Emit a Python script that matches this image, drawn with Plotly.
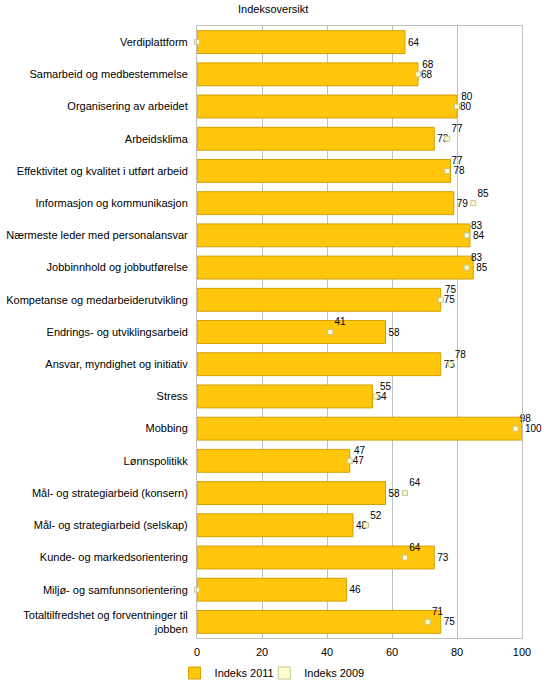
import plotly.graph_objects as go

categories = [
    "Verdiplattform",
    "Samarbeid og medbestemmelse",
    "Organisering av arbeidet",
    "Arbeidsklima",
    "Effektivitet og kvalitet i utført arbeid",
    "Informasjon og kommunikasjon",
    "Nærmeste leder med personalansvar",
    "Jobbinnhold og jobbutførelse",
    "Kompetanse og medarbeiderutvikling",
    "Endrings- og utviklingsarbeid",
    "Ansvar, myndighet og initiativ",
    "Stress",
    "Mobbing",
    "Lønnspolitikk",
    "Mål- og strategiarbeid (konsern)",
    "Mål- og strategiarbeid (selskap)",
    "Kunde- og markedsorientering",
    "Miljø- og samfunnsorientering",
    "Totaltilfredshet og forventninger til<br>jobben",
]
indeks_2011 = [64, 68, 80, 73, 78, 79, 84, 85, 75, 58, 75, 54, 100, 47, 58, 48, 73, 46, 75]
indeks_2009 = [0, 68, 80, 77, 77, 85, 83, 83, 75, 41, 78, 55, 98, 47, 64, 52, 64, 0, 71]
x_ticks = [0, 20, 40, 60, 80, 100]

FONT = "Liberation Sans, Arial, sans-serif"
BAR_FILL = "#FFC60B"
BAR_LINE = "#D2A000"
MK_FILL = "#FFFFCC"
MK_LINE = "#C4C49A"

fig = go.Figure()
fig.add_trace(go.Bar(
    y=categories, x=indeks_2011, orientation="h", name="Indeks 2011",
    marker=dict(color=BAR_FILL, line=dict(color=BAR_LINE, width=1)),
    text=[str(v) for v in indeks_2011], textposition="outside",
    textfont=dict(size=10, color="#000000", family=FONT),
    constraintext="none", cliponaxis=False, width=0.71,
    showlegend=True, legend="legend",
))
fig.add_trace(go.Scatter(
    y=categories, x=indeks_2009, mode="markers+text", name="Indeks 2009",
    marker=dict(symbol="square", size=5, color=MK_FILL, line=dict(color=MK_LINE, width=1)),
    text=["" if v == 0 else str(v) for v in indeks_2009], textposition="top right",
    textfont=dict(size=10, color="#000000", family=FONT),
    cliponaxis=False, showlegend=False,
))
# legend-only entry for 2009 (square swatch)
fig.add_trace(go.Bar(
    y=[None], x=[None], orientation="h", name="Indeks 2009",
    marker=dict(color=MK_FILL, line=dict(color=MK_LINE, width=1)),
    showlegend=True, legend="legend2",
))

leg_common = dict(orientation="h", xanchor="left", y=-0.0335, yanchor="top",
                  font=dict(size=11, family=FONT), itemwidth=30,
                  bgcolor="rgba(0,0,0,0)")

fig.update_layout(
    width=548, height=698,
    margin=dict(l=197, r=26, t=26, b=60, autoexpand=False),
    paper_bgcolor="white", plot_bgcolor="white",
    font=dict(family=FONT, size=11, color="#000000"),
    title=dict(text="Indeksoversikt", x=238 / 548, xref="container", xanchor="left",
               y=1 - 9 / 698, yref="container", yanchor="middle",
               font=dict(size=11, family=FONT)),
    barmode="overlay",
    showlegend=True,
    legend=dict(x=-0.069, **leg_common),
    legend2=dict(x=0.207, **leg_common),
)
fig.update_xaxes(
    range=[0, 100], tickvals=x_ticks, ticktext=[str(t) for t in x_ticks],
    showgrid=True, gridcolor="#C0C0C0", gridwidth=1, automargin=False,
    showline=True, linecolor="#C0C0C0", mirror=True, zeroline=False,
    ticks="", tickfont=dict(size=11), ticklabelstandoff=4, fixedrange=True,
)
fig.update_yaxes(
    categoryorder="array", categoryarray=categories, autorange=False,
    range=[len(categories) - 0.5, -0.5], automargin=False,
    showgrid=False, showline=True, linecolor="#C0C0C0", mirror=True,
    ticks="", tickfont=dict(size=11), ticklabelstandoff=6, fixedrange=True,
)

fig.write_html("out.html", config={"displayModeBar": False},
               post_script="document.body.style.margin='0';")
